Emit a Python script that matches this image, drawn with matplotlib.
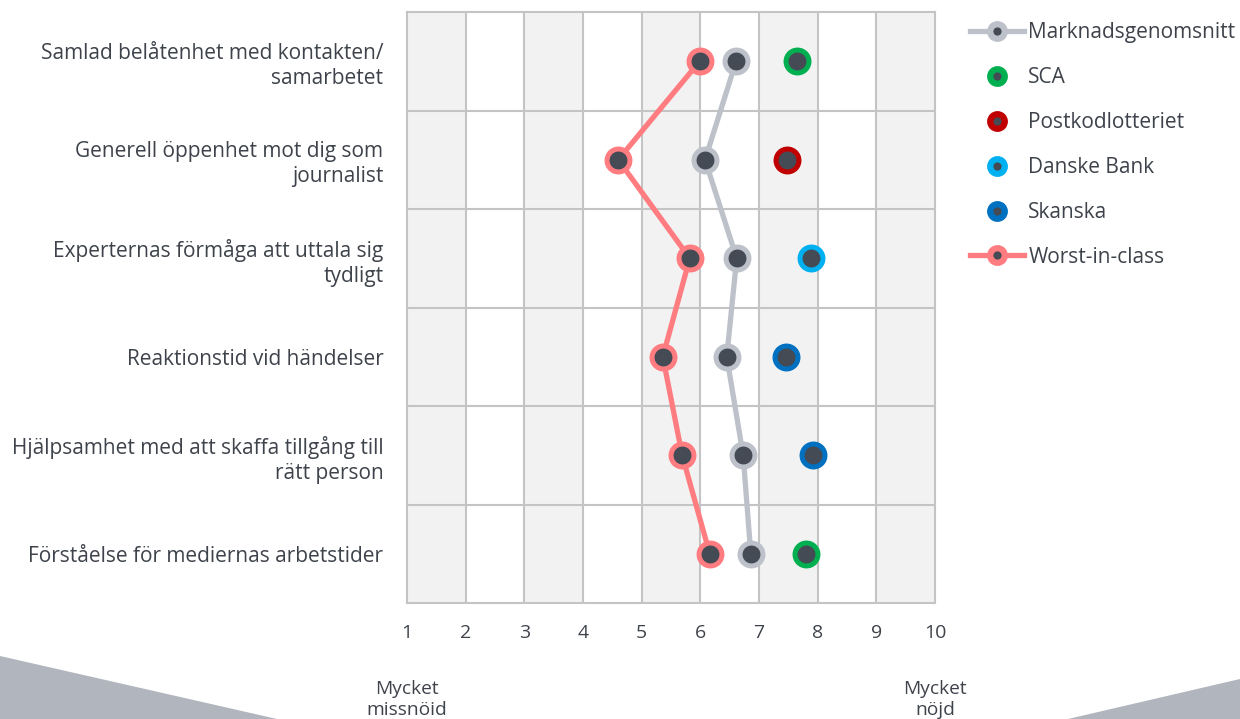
import numpy as np
import matplotlib.pyplot as plt
from matplotlib.lines import Line2D
from matplotlib.patches import Polygon

plt.rcParams['font.family'] = ['Open Sans', 'DejaVu Sans']

# data
questions = [
    "Samlad belåtenhet med kontakten/\nsamarbetet",
    "Generell öppenhet mot dig som\njournalist",
    "Experternas förmåga att uttala sig\ntydligt",
    "Reaktionstid vid händelser",
    "Hjälpsamhet med att skaffa tillgång till\nrätt person",
    "Förståelse för mediernas arbetstider",
]
market_avg = [6.61, 6.08, 6.62, 6.45, 6.73, 6.86]
worst_in_class = [5.99, 4.60, 5.82, 5.36, 5.69, 6.16]
best_company = ["SCA", "Postkodlotteriet", "Danske Bank", "Skanska", "Skanska", "SCA"]
best_value = [7.65, 7.48, 7.89, 7.46, 7.92, 7.80]
company_order = ["SCA", "Postkodlotteriet", "Danske Bank", "Skanska"]
company_colors = {"SCA": "#00B050", "Postkodlotteriet": "#C00000",
                  "Danske Bank": "#00B0F0", "Skanska": "#0070C0"}
xticks = list(range(1, 11))

text_col = "#3E434B"
dot_col = "#454B55"
grid_col = "#C4C4C4"
market_col = "#BCC1CA"
worst_col = "#FF7C80"

fig = plt.figure(figsize=(12.4, 7.19), dpi=100)
ax = fig.add_axes([407 / 1240, 1 - 603 / 719, 528 / 1240, 591 / 719])

# alternating vertical bands
for v in range(1, 10, 2):
    ax.axvspan(v, v + 1, color="#F2F2F2", zorder=0, lw=0)
for v in xticks[1:-1]:
    ax.axvline(v, color=grid_col, lw=1.5, zorder=1)
for r in range(1, len(questions)):
    ax.axhline(r, color=grid_col, lw=1.5, zorder=1)

y = np.arange(len(questions)) + 0.5

ms, mew = 16.5, 3.6
ax.plot(market_avg, y, color=market_col, lw=3.8, zorder=2)
ax.plot(market_avg, y, ls="none", marker="o", ms=ms, mew=mew,
        mfc=dot_col, mec=market_col, zorder=4)
ax.plot(worst_in_class, y, color=worst_col, lw=3.8, zorder=3)
ax.plot(worst_in_class, y, ls="none", marker="o", ms=ms, mew=mew,
        mfc=dot_col, mec=worst_col, zorder=5)
for comp, val, yy in zip(best_company, best_value, y):
    ax.plot([val], [yy], ls="none", marker="o", ms=ms, mew=mew,
            mfc=dot_col, mec=company_colors[comp], zorder=5)

ax.set_xlim(1, 10)
ax.set_ylim(len(questions), 0)
ax.set_xticks(xticks)
ax.set_xticklabels([str(t) for t in xticks], fontsize=14, color=text_col)
ax.set_yticks(y)
ax.set_yticklabels(questions, fontsize=15, color=text_col, linespacing=1.25)
ax.tick_params(axis="both", length=0)
ax.tick_params(axis="x", pad=15)
ax.tick_params(axis="y", pad=17)
for s in ax.spines.values():
    s.set_color(grid_col)
    s.set_linewidth(1.5)

# scale end labels
ax.text(1, -0.13, "Mycket\nmissnöid", transform=ax.get_xaxis_transform(),
        ha="center", va="top", fontsize=13.8, color=text_col, linespacing=1.25)
ax.text(10, -0.13, "Mycket\nnöjd", transform=ax.get_xaxis_transform(),
        ha="center", va="top", fontsize=13.8, color=text_col, linespacing=1.25)

# legend
lms, lmew = 10.5, 4.5
handles = [Line2D([], [], color=market_col, lw=3.8, marker="o", ms=lms, mew=lmew,
                  mfc=dot_col, mec=market_col)]
labels = ["Marknadsgenomsnitt"]
for comp in company_order:
    handles.append(Line2D([], [], ls="none", marker="o", ms=lms, mew=lmew,
                          mfc=dot_col, mec=company_colors[comp]))
    labels.append(comp)
handles.append(Line2D([], [], color=worst_col, lw=3.8, marker="o", ms=lms, mew=lmew,
                      mfc=dot_col, mec=worst_col))
labels.append("Worst-in-class")
leg = fig.legend(handles, labels, loc="upper left", bbox_to_anchor=(970 / 1240, 1 - 22 / 719),
                 frameon=False, fontsize=15, handlelength=2.6, handletextpad=0.2,
                 labelspacing=1.15, borderaxespad=0, borderpad=0)
for t in leg.get_texts():
    t.set_color(text_col)

# decorative corner shapes
fig.patches.append(Polygon([(0, 1 - 656 / 719), (277 / 1240, 0), (0, 0)],
                           closed=True, transform=fig.transFigure,
                           color="#B0B5BE", lw=0, zorder=0))
fig.patches.append(Polygon([(1068 / 1240, 0), (1, 1 - 679 / 719), (1, 0)],
                           closed=True, transform=fig.transFigure,
                           color="#B0B5BE", lw=0, zorder=0))

fig.savefig("out.png", dpi=100)
